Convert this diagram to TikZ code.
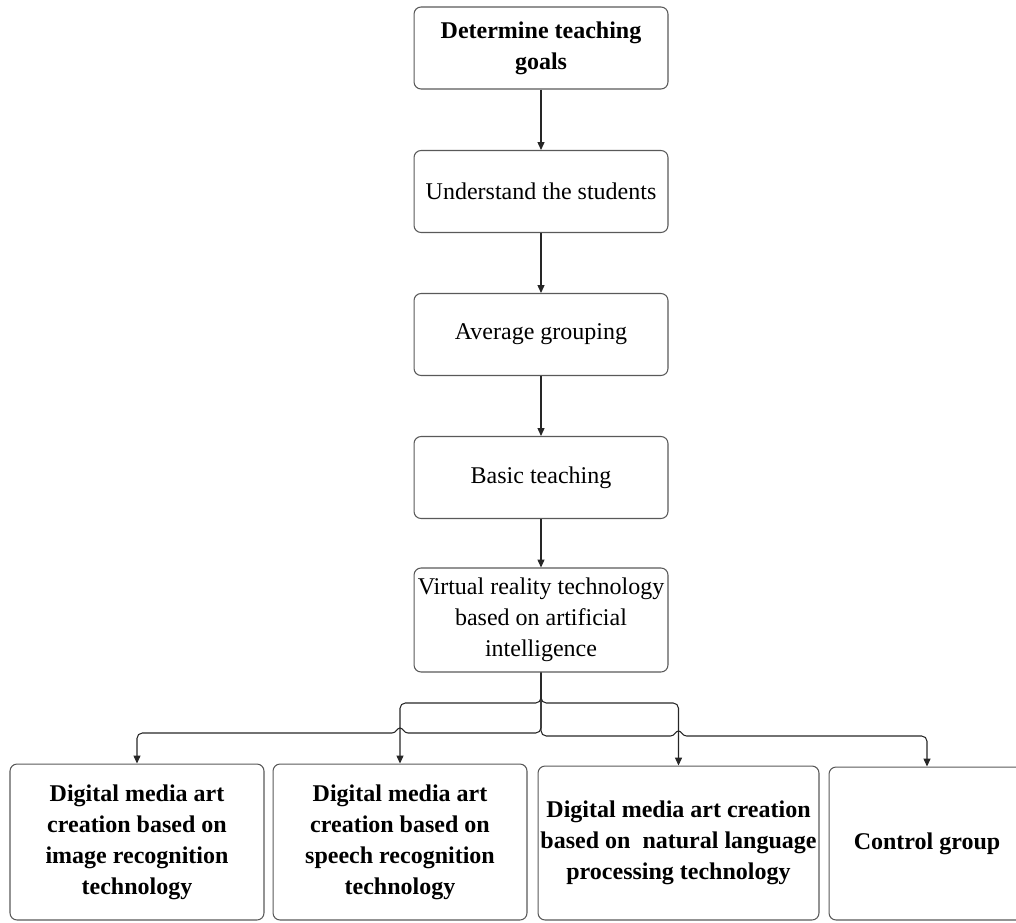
\documentclass[tikz,border=0pt]{standalone}
\usepackage{fontspec}
\setmainfont{Liberation Serif}
\usetikzlibrary{arrows.meta,calc}
\begin{document}
\begin{tikzpicture}[x=0.02cm,y=-0.02cm,
  box/.style={draw=black!65,line width=0.6pt,rounded corners=4pt,align=center,inner sep=0pt,
    font=\fontsize{13.66}{17.6}\selectfont},
  boldbox/.style={box,font=\fontsize{13.66}{17.6}\selectfont\bfseries},
  stepbox/.style={box,minimum width=5.08cm,minimum height=1.64cm},
  arr/.style={draw=black!85,line width=0.6pt,-{Triangle[length=4.5pt,width=4pt]}}]
  \useasboundingbox (0,0) rectangle (1016,922);
  % main column
  \node[stepbox,boldbox] (goals) at (541,48) {Determine teaching\\goals};
  \node[stepbox] (students) at (541,191.5) {Understand the students};
  \node[stepbox] (grouping) at (541,334.5) {Average grouping};
  \node[stepbox] (basic) at (541,477.5) {Basic teaching};
  \node[stepbox,minimum height=2.08cm] (vr) at (541,620) {Virtual reality technology\\based on artificial\\intelligence};
  % the four groups
  \node[boldbox,minimum width=5.08cm,minimum height=3.12cm] (image) at (137,842) {Digital media art\\creation based on\\image recognition\\technology};
  \node[boldbox,minimum width=5.08cm,minimum height=3.12cm] (speech) at (400,842) {Digital media art\\creation based on\\speech recognition\\technology};
  \node[boldbox,minimum width=5.62cm,minimum height=3.08cm] (nlp) at (678.5,843) {Digital media art creation\\based on~ natural language\\processing technology};
  \node[boldbox,minimum width=3.92cm,minimum height=3.06cm] (ctrl) at (927,843.5) {Control group};
  \draw[arr] (goals) -- (students);
  \draw[arr] (students) -- (grouping);
  \draw[arr] (grouping) -- (basic);
  \draw[arr] (basic) -- (vr);
  \coordinate (upper) at (0,703);
  \coordinate (lowerL) at (0,733);
  \coordinate (lowerR) at (0,736);
  \draw[arr,rounded corners=3pt] (vr.south) -- (vr.south |- upper) -| (speech.north);
  \draw[arr,rounded corners=3pt] (vr.south) -- (vr.south |- upper) -| (nlp.north);
  % lower runs jump over the upper ones
  \draw[arr] (vr.south) [rounded corners=3pt] -- (vr.south |- lowerL) [sharp corners] -- ($(speech.north |- lowerL)+(8,0)$)
    .. controls +(-4,0) and +(3,0) .. ++(-8,-5) .. controls +(-3,0) and +(4,0) .. ++(-8,5) [rounded corners=3pt] -| (image.north);
  \draw[arr] (vr.south) [rounded corners=3pt] -- (vr.south |- lowerR) [sharp corners] -- ($(nlp.north |- lowerR)+(-8,0)$)
    .. controls +(4,0) and +(-3,0) .. ++(8,-5) .. controls +(3,0) and +(-4,0) .. ++(8,5) [rounded corners=3pt] -| (ctrl.north);
\end{tikzpicture}
\end{document}
